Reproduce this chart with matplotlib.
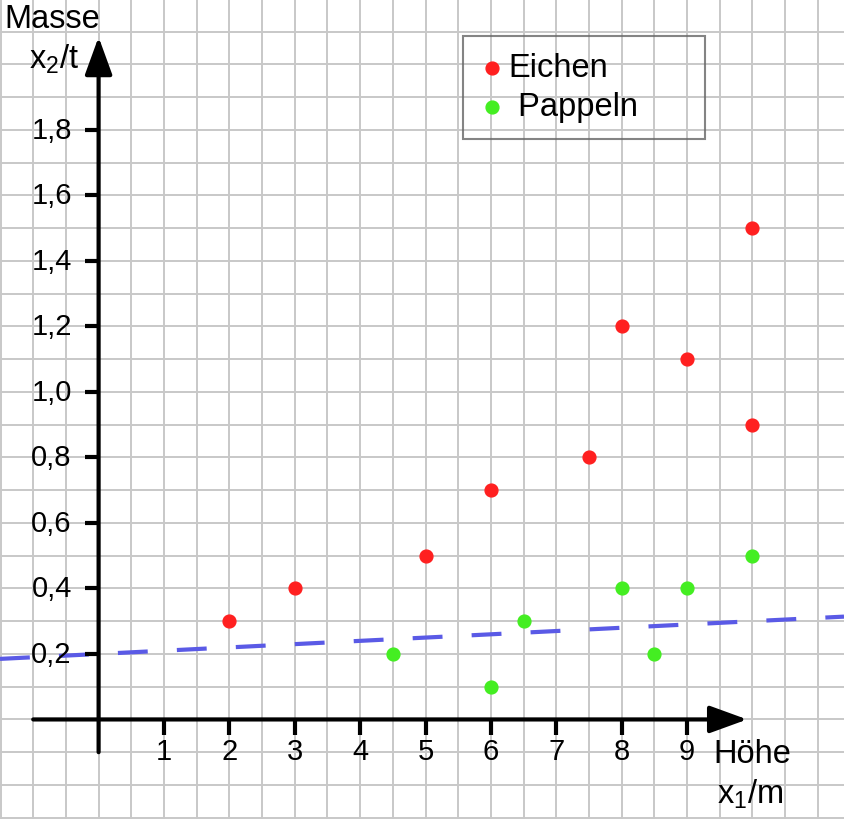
import numpy as np
import matplotlib
matplotlib.use("Agg")
import matplotlib.pyplot as plt

plt.rcParams['font.family'] = ['Liberation Sans', 'DejaVu Sans']
plt.rcParams['mathtext.default'] = 'regular'
plt.rcParams['lines.scale_dashes'] = False

# data
eichen_x = [2, 3, 5, 6, 7.5, 8, 9, 10, 10]
eichen_y = [0.3, 0.4, 0.5, 0.7, 0.8, 1.2, 1.1, 1.5, 0.9]
pappeln_x = [4.5, 6, 6.5, 8, 8.5, 9, 10]
pappeln_y = [0.2, 0.1, 0.3, 0.4, 0.2, 0.4, 0.5]

# dashed separating line y = a + b*x
line_a = 0.2
line_b = 0.01

x_ticks = [1, 2, 3, 4, 5, 6, 7, 8, 9]
y_ticks = [0.2, 0.4, 0.6, 0.8, 1.0, 1.2, 1.4, 1.6, 1.8]

xlim = (-1.508, 11.40)
ylim = (-0.304, 2.2)

fig = plt.figure(figsize=(8.44, 8.20), dpi=100)
ax = fig.add_axes([0, 0, 1, 1])
ax.set_xlim(*xlim)
ax.set_ylim(*ylim)

# squared paper
ax.set_xticks(np.arange(-1.5, 11.5, 0.5))
ax.set_yticks(np.arange(-0.3, 2.25, 0.1))
ax.tick_params(length=0, labelbottom=False, labelleft=False)
ax.grid(True, color='#c8c8c8', lw=1.4)
ax.set_axisbelow(True)
for s in ax.spines.values():
    s.set_visible(False)

# dashed line
lx = np.array(xlim)
ax.plot(lx, line_a + line_b * lx, color='#5a5ae6', lw=3,
        dashes=(21.5, 21), zorder=2)

# axes with arrows
arrow = dict(arrowstyle='-|>,head_length=0.55,head_width=0.2', lw=3,
             color='black', mutation_scale=42, shrinkA=0, shrinkB=0)
ax.annotate('', xy=(9.92, 0), xytext=(-1.0, 0), arrowprops=arrow, zorder=3)
ax.annotate('', xy=(0, 2.084), xytext=(0, -0.1), arrowprops=arrow, zorder=3)

for t in x_ticks:
    ax.plot([t, t], [0, -0.046], color='black', lw=3, solid_capstyle='butt', zorder=3)
    ax.text(t, -0.097, str(t), ha='center', va='center', fontsize=21)
for t in y_ticks:
    ax.plot([-0.21, 0], [t, t], color='black', lw=3, solid_capstyle='butt', zorder=3)
    ax.text(-0.41, t, f"{t:.1f}".replace('.', ','), ha='right', va='center', fontsize=21)

ax.text(-0.71, 2.14, 'Masse', ha='center', va='center', fontsize=23.5)
ax.text(-0.68, 2.02, 'x$_2$/t', ha='center', va='center', fontsize=23.5)
ax.text(10.0, -0.105, 'Höhe', ha='center', va='center', fontsize=23.5)
ax.text(9.96, -0.227, 'x$_1$/m', ha='center', va='center', fontsize=23.5)

# points
ax.scatter(eichen_x, eichen_y, s=85, color='#ff2020', zorder=4, label='Eichen')
ax.scatter(pappeln_x, pappeln_y, s=85, color='#44ee22', zorder=4, label=' Pappeln')

leg = ax.legend(loc='upper left',
                bbox_to_anchor=(463 / 844, (820 - 137) / 820, 242 / 844, 100 / 820),
                bbox_transform=fig.transFigure, mode='expand',
                fontsize=23.5, frameon=True, fancybox=False,
                edgecolor='#666666', borderpad=0.5, labelspacing=0.25,
                handlelength=0.8, handletextpad=0.1, borderaxespad=0)
leg.get_frame().set_facecolor('none')
leg.get_frame().set_linewidth(1.5)

fig.savefig('out.png', dpi=100)
